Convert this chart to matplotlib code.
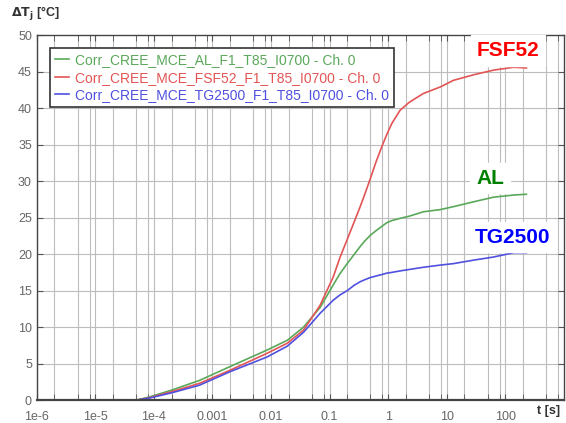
import numpy as np
import matplotlib
matplotlib.use("Agg")
import matplotlib.pyplot as plt
from matplotlib.ticker import FixedLocator, NullFormatter

plt.rcParams['font.family'] = ['Liberation Sans', 'DejaVu Sans']

# time points [s]
t = [1e-6, 5e-5, 8.5e-5, 2e-4, 6e-4, 2e-3, 8.5e-3, 0.019, 0.036, 0.069, 0.116, 0.15, 0.2,
     0.26, 0.33, 0.4, 0.5, 0.62, 0.78, 0.95, 1.16, 1.6, 2.3, 4, 7.8, 13, 30, 63, 140, 230]

al = [0, 0, 0.45, 1.37, 2.7, 4.6, 6.85, 8.2, 10.0, 12.7, 15.8, 17.3, 18.7,
      19.9, 21.0, 21.8, 22.6, 23.2, 23.8, 24.3, 24.6, 24.9, 25.2, 25.8, 26.1, 26.5, 27.2, 27.8, 28.1, 28.2]
fsf52 = [0, 0, 0.35, 1.15, 2.3, 4.1, 6.4, 7.8, 9.6, 13.0, 16.9, 19.5, 22.0,
         24.3, 26.4, 28.2, 30.4, 32.6, 34.7, 36.4, 37.9, 39.7, 40.8, 42.0, 42.9, 43.8, 44.6, 45.2, 45.6, 45.5]
tg2500 = [0, 0, 0.3, 1.0, 2.05, 3.9, 5.9, 7.4, 9.3, 11.9, 13.7, 14.4, 15.0,
          15.7, 16.2, 16.5, 16.8, 17.0, 17.2, 17.4, 17.5, 17.7, 17.9, 18.2, 18.5, 18.7, 19.2, 19.6, 20.2, 20.2]

labels = ["Corr_CREE_MCE_AL_F1_T85_I0700 - Ch. 0",
          "Corr_CREE_MCE_FSF52_F1_T85_I0700 - Ch. 0",
          "Corr_CREE_MCE_TG2500_F1_T85_I0700 - Ch. 0"]
line_colors = ["#5aa85a", "#e35555", "#5050e0"]

xticks = [1e-6, 1e-5, 1e-4, 1e-3, 1e-2, 1e-1, 1, 10, 100]
xticklabels = ["1e-6", "1e-5", "1e-4", "0.001", "0.01", "0.1", "1", "10", "100"]

fig = plt.figure(figsize=(5.66, 4.23), dpi=100)
ax = fig.add_axes([0.065, 0.054, 0.931, 0.863])

for y, lab, c in zip([al, fsf52, tg2500], labels, line_colors):
    ax.plot(t, y, color=c, lw=1.2, label=lab)

ax.set_xscale('log')
ax.set_xlim(1e-6, 1e3)
ax.set_ylim(0, 50)

# grid at 1, 2, 5, 8 of each decade
grid_x = [m * 10.0 ** e for e in range(-6, 3) for m in (1, 2, 5, 8)]
for gx in grid_x:
    ax.axvline(gx, color='#bdbdbd', lw=0.8, zorder=0)
for gy in range(5, 50, 5):
    ax.axhline(gy, color='#bdbdbd', lw=0.8, zorder=0)

ax.xaxis.set_major_locator(FixedLocator(xticks))
ax.set_xticklabels(xticklabels)
ax.xaxis.set_minor_locator(FixedLocator([m * 10.0 ** e for e in range(-6, 3) for m in (2, 5, 8)]))
ax.xaxis.set_minor_formatter(NullFormatter())
ax.set_yticks(range(0, 51, 5))
ax.tick_params(axis='both', which='both', direction='in', top=True, right=True,
               colors='#555555', labelsize=9, length=4)
ax.tick_params(axis='x', pad=8)
for lbl in ax.get_xticklabels() + ax.get_yticklabels():
    lbl.set_color('#666666')
for s in ax.spines.values():
    s.set_color('#444444')
    s.set_linewidth(1.0)
ax.spines['bottom'].set_linewidth(1.6)

leg = ax.legend(loc='upper left', bbox_to_anchor=(0.012, 0.983), fontsize=10,
                frameon=True, fancybox=False, edgecolor='#333333', framealpha=1,
                handlelength=1.0, handletextpad=0.45, borderpad=0.35, labelspacing=0.25)
leg.get_frame().set_linewidth(1.2)
for txt, c in zip(leg.get_texts(), line_colors):
    txt.set_color(c)

# curve annotations
ax.text(112, 47.9, "FSF52", color='#ff0000', fontsize=15, fontweight='bold',
        ha='center', va='center', backgroundcolor='white')
ax.text(55, 30.4, "AL", color='#008000', fontsize=15, fontweight='bold',
        ha='center', va='center', backgroundcolor='white')
ax.text(132, 22.3, "TG2500", color='#0000ff', fontsize=15, fontweight='bold',
        ha='center', va='center', backgroundcolor='white')

fig.text(0.02, 0.968, r"$\mathbf{\Delta T_j}$ [°C]", fontsize=9, fontweight='bold',
         color='#333333', ha='left', va='center')
fig.text(0.948, 0.028, "t [s]", fontsize=9, fontweight='bold', color='#333333',
         ha='left', va='center')

fig.savefig("out.png", dpi=100)
